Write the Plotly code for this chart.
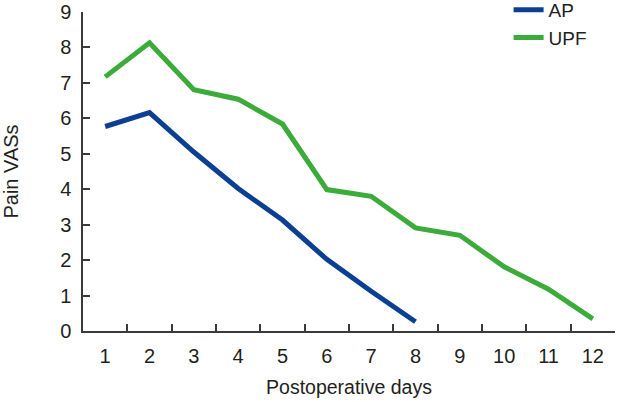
import plotly.graph_objects as go

days = ["1", "2", "3", "4", "5", "6", "7", "8", "9", "10", "11", "12"]
ap_days = ["1", "2", "3", "4", "5", "6", "7", "8"]
ap_values = [5.77, 6.16, 5.05, 4.02, 3.13, 2.02, 1.12, 0.26]
upf_values = [7.17, 8.13, 6.81, 6.54, 5.84, 3.99, 3.80, 2.91, 2.70, 1.81, 1.18, 0.34]
y_ticks = [0, 1, 2, 3, 4, 5, 6, 7, 8, 9]

FONT = "Liberation Sans, Arial, sans-serif"
AXIS_COLOR = "#3a3a3a"

fig = go.Figure()
fig.add_trace(go.Scatter(x=ap_days, y=ap_values, mode="lines", name="AP",
                         line=dict(color="#0b3f92", width=5)))
fig.add_trace(go.Scatter(x=days, y=upf_values, mode="lines", name="UPF",
                         line=dict(color="#3bab3a", width=5)))

fig.update_layout(
    width=617, height=402,
    margin=dict(l=83, r=2, t=11.5, b=70.5, autoexpand=False),
    paper_bgcolor="white", plot_bgcolor="white",
    font=dict(family=FONT, size=20, color="#231f20"),
    showlegend=True,
    legend=dict(x=0.80, y=1.066, xanchor="left", yanchor="top",
                font=dict(size=19, color="#231f20"),
                bgcolor="rgba(0,0,0,0)", tracegroupgap=0, itemwidth=30),
    xaxis=dict(
        type="category", categoryorder="array", categoryarray=days,
        range=[-0.5, 11.5], tickson="boundaries", automargin=False,
        ticks="inside", ticklen=7, tickwidth=1.5, tickcolor=AXIS_COLOR,
        showline=True, linecolor=AXIS_COLOR, linewidth=1.5,
        showgrid=False, zeroline=False,
        tickfont=dict(size=20), ticklabelstandoff=6,
        title=dict(text="Postoperative days", font=dict(size=19.5), standoff=15),
    ),
    yaxis=dict(
        range=[0, 9], tickvals=y_ticks, automargin=False,
        ticks="inside", ticklen=7, tickwidth=1.5, tickcolor=AXIS_COLOR,
        showline=True, linecolor=AXIS_COLOR, linewidth=1.5,
        showgrid=False, zeroline=False,
        tickfont=dict(size=20), ticklabelstandoff=6,
        title=dict(text="Pain VASs", font=dict(size=20), standoff=38),
    ),
)

fig.write_html("out.html", config={"displayModeBar": False},
               post_script="document.body.style.margin='0';")
